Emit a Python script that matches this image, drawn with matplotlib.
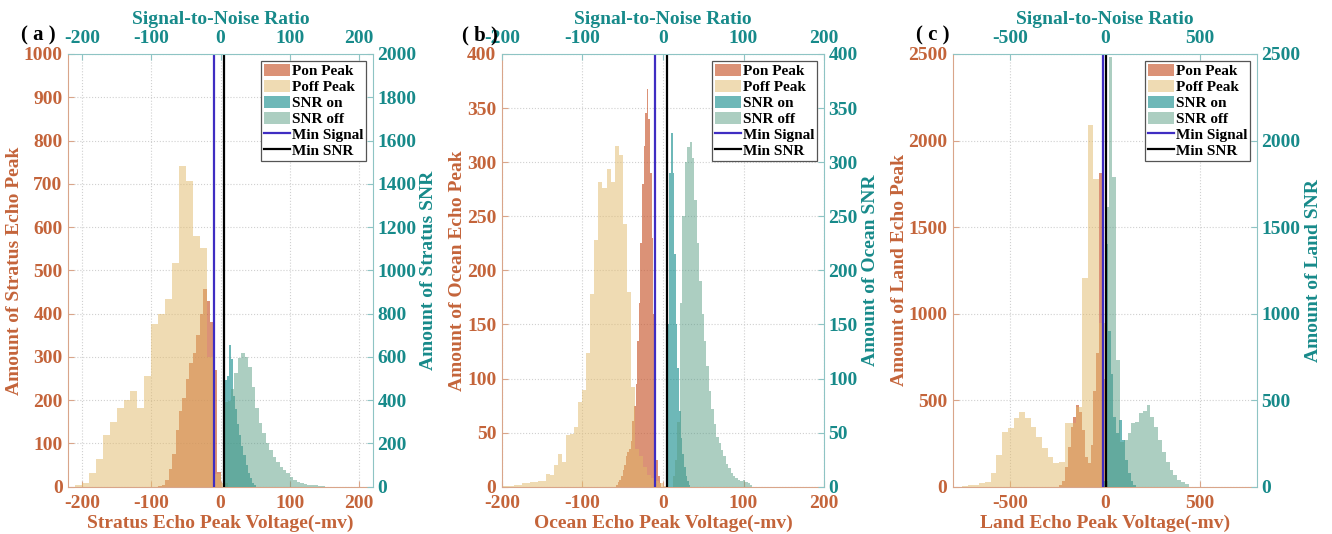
import numpy as np
import matplotlib
matplotlib.use("Agg")
import matplotlib.pyplot as plt

plt.rcParams['font.family'] = ['Liberation Serif', 'DejaVu Serif']
plt.rcParams['font.weight'] = 'bold'
plt.rcParams['axes.labelweight'] = 'bold'
plt.rcParams['axes.unicode_minus'] = False

# ---- data (bin edges + counts) ----
# (a) Stratus
stratus_poff_edges = np.arange(-210, 20, 10)
stratus_poff_counts = [3, 8, 31, 63, 119, 150, 181, 200, 221, 183, 256, 376, 400,
                       433, 518, 741, 706, 580, 552, 300, 30, 8]
stratus_pon_edges = np.arange(-90, 5, 5)
stratus_pon_counts = [2, 5, 15, 40, 75, 130, 175, 205, 250, 285, 310, 350, 400,
                      458, 428, 380, 270, 35]
stratus_snr_on_edges = np.arange(3, 54, 3)
stratus_snr_on_counts = [400, 495, 510, 655, 590, 420, 360, 290, 240, 190, 145,
                         100, 65, 40, 18, 6]
stratus_snr_off_edges = np.arange(5, 155, 5)
stratus_snr_off_counts = [390, 395, 450, 525, 594, 617, 600, 555, 462, 363, 293,
                          247, 201, 170, 135, 112, 92, 75, 62, 45, 31, 22, 15,
                          11, 8, 9, 6, 4, 3]

# (b) Ocean
ocean_poff_edges = np.arange(-200, 10, 5)
ocean_poff_counts = [1, 1, 1, 2, 2, 3, 3, 4, 4, 5, 5, 12, 11, 20, 30, 23, 48, 49,
                     55, 78, 89, 124, 178, 228, 282, 276, 294, 282, 315, 307,
                     243, 180, 92, 35, 28, 18, 11, 8, 5, 3, 1]
ocean_pon_edges = np.arange(-58, 0, 2)
ocean_pon_counts = [2, 4, 6, 10, 15, 20, 28, 32, 35, 42, 61, 75, 95, 135, 170,
                    225, 280, 315, 345, 368, 340, 290, 230, 160, 60, 25, 10, 3]
ocean_snr_on_edges = np.arange(4, 36, 2)
ocean_snr_on_counts = [35, 150, 290, 327, 290, 215, 150, 110, 70, 45, 30, 18,
                       10, 5, 2]
ocean_snr_off_edges = np.arange(12, 114, 3)
ocean_snr_off_counts = [10, 25, 60, 170, 250, 300, 314, 319, 304, 265, 225, 190,
                        160, 135, 112, 88, 72, 58, 46, 40, 34, 28, 21, 17, 13,
                        10, 8, 6, 5, 6, 4, 3, 2]

# (c) Land
land_poff_edges = np.arange(-750, 30, 30)
land_poff_counts = [5, 8, 12, 19, 29, 77, 183, 318, 337, 395, 433, 395, 347, 289,
                    221, 173, 139, 144, 366, 370, 460, 1204, 2090, 1776, 944]
land_pon_edges = np.arange(-240, 30, 15)
land_pon_counts = [10, 30, 115, 231, 347, 400, 472, 433, 327, 173, 135, 240, 550,
                   770, 1815, 620, 30]
land_snr_on_edges = np.arange(-15, 180, 15)
land_snr_on_counts = [30, 1400, 900, 650, 400, 310, 385, 270, 155, 77, 30, 10]
land_snr_off_edges = np.arange(0, 460, 20)
land_snr_off_counts = [1618, 2485, 1791, 732, 260, 270, 308, 366, 375, 424, 440,
                       470, 404, 347, 270, 202, 144, 96, 67, 38, 25, 15]

min_signal = -10
min_snr = 5

# ---- style ----
ORANGE = '#C4643A'
TEAL = '#178A8A'
PON = '#C8582F'
POFF = '#E1B969'
SON = '#0E8A8A'
SOFF = '#5A9E85'
BLUE = '#3F2DC2'

fig = plt.figure(figsize=(13.32, 5.34), dpi=100)


def draw_panel(rect, tag, tag_x, name, xlim, xticks, ylim, yticks, y2ticks,
               pon, poff, son, soff, ylab_x):
    ax = fig.add_axes(rect)
    ax2 = fig.add_axes(rect, label=name + '_snr')
    ax2.patch.set_visible(False)

    h_pon = ax.stairs(pon[1], pon[0], fill=True, color=PON, alpha=0.65, lw=0)
    h_poff = ax.stairs(poff[1], poff[0], fill=True, color=POFF, alpha=0.5, lw=0)
    h_son = ax2.stairs(son[1], son[0], fill=True, color=SON, alpha=0.6, lw=0)
    h_soff = ax2.stairs(soff[1], soff[0], fill=True, color=SOFF, alpha=0.5, lw=0)
    h_sig = ax2.axvline(min_signal, color=BLUE, lw=1.6)
    h_snr = ax2.axvline(min_snr, color='black', lw=1.6)

    ax.set_xlim(xlim)
    ax.set_ylim(ylim)
    ax.set_xticks(xticks)
    ax.set_yticks(yticks)
    ax2.set_xlim(xlim)
    ax2.set_ylim(y2ticks[0], y2ticks[-1])
    ax2.set_xticks(xticks)
    ax2.set_yticks(y2ticks)

    ax.grid(True, linestyle=':', color='#d0d0d0', linewidth=0.8)
    ax.set_axisbelow(True)

    ax2.xaxis.tick_top()
    ax2.xaxis.set_label_position('top')
    ax2.yaxis.tick_right()
    ax2.yaxis.set_label_position('right')

    for s in ['top', 'right']:
        ax.spines[s].set_visible(False)
    for s in ['bottom', 'left']:
        ax2.spines[s].set_visible(False)
        ax.spines[s].set_color('#D9A58A')
    for s in ['top', 'right']:
        ax2.spines[s].set_color('#8EC4C4')

    ax.tick_params(direction='in', length=4, labelsize=14, labelcolor=ORANGE,
                   color='#D9A58A', pad=4)
    ax.tick_params(axis='x', pad=6)
    ax2.tick_params(direction='in', length=4, labelsize=14, labelcolor=TEAL,
                    color='#8EC4C4', pad=3)
    ax2.tick_params(axis='x', pad=5)

    ax.set_xlabel(name + ' Echo Peak Voltage(-mv)', color=ORANGE, fontsize=14,
                  labelpad=2)
    ax.set_ylabel('Amount of ' + name + ' Echo Peak', color=ORANGE, fontsize=14)
    ax2.set_xlabel('Signal-to-Noise Ratio', color=TEAL, fontsize=14, labelpad=4)
    ax2.set_ylabel('Amount of ' + name + ' SNR', color=TEAL, fontsize=14,
                   rotation=90)
    ax.yaxis.set_label_coords(ylab_x[0], 0.5)
    ax2.yaxis.set_label_coords(ylab_x[1], 0.5)

    leg = ax2.legend([h_pon, h_poff, h_son, h_soff, h_sig, h_snr],
                     ['Pon Peak', 'Poff Peak', 'SNR on', 'SNR off',
                      'Min Signal', 'Min SNR'],
                     loc='upper right', fontsize=11, fancybox=False,
                     framealpha=1, edgecolor='#555555', borderaxespad=0.45,
                     handlelength=1.7, handleheight=0.8, handletextpad=0.12,
                     labelspacing=0.12, borderpad=0.2)
    leg.get_frame().set_linewidth(0.9)

    fig.text(tag_x, 1 - 35 / 534, tag, ha='center', va='center', fontsize=15,
             fontweight='bold')


draw_panel([0.0511, 0.0886, 0.2290, 0.8103], '( a )', 38 / 1332, 'Stratus',
           (-220, 220), [-200, -100, 0, 100, 200],
           (0, 1000), np.arange(0, 1100, 100), np.arange(0, 2200, 200),
           (stratus_pon_edges, stratus_pon_counts),
           (stratus_poff_edges, stratus_poff_counts),
           (stratus_snr_on_edges, stratus_snr_on_counts),
           (stratus_snr_off_edges, stratus_snr_off_counts),
           (-0.148, 1.154))

draw_panel([0.3767, 0.0886, 0.2420, 0.8103], '( b )', 480 / 1332, 'Ocean',
           (-200, 200), [-200, -100, 0, 100, 200],
           (0, 400), np.arange(0, 450, 50), np.arange(0, 450, 50),
           (ocean_pon_edges, ocean_pon_counts),
           (ocean_poff_edges, ocean_poff_counts),
           (ocean_snr_on_edges, ocean_snr_on_counts),
           (ocean_snr_off_edges, ocean_snr_off_counts),
           (-0.112, 1.119))

draw_panel([0.7152, 0.0886, 0.2285, 0.8103], '( c )', 933 / 1332, 'Land',
           (-800, 800), [-500, 0, 500],
           (0, 2500), np.arange(0, 3000, 500), np.arange(0, 3000, 500),
           (land_pon_edges, land_pon_counts),
           (land_poff_edges, land_poff_counts),
           (land_snr_on_edges, land_snr_on_counts),
           (land_snr_off_edges, land_snr_off_counts),
           (-0.147, 1.157))

fig.savefig("out.png", dpi=100)
